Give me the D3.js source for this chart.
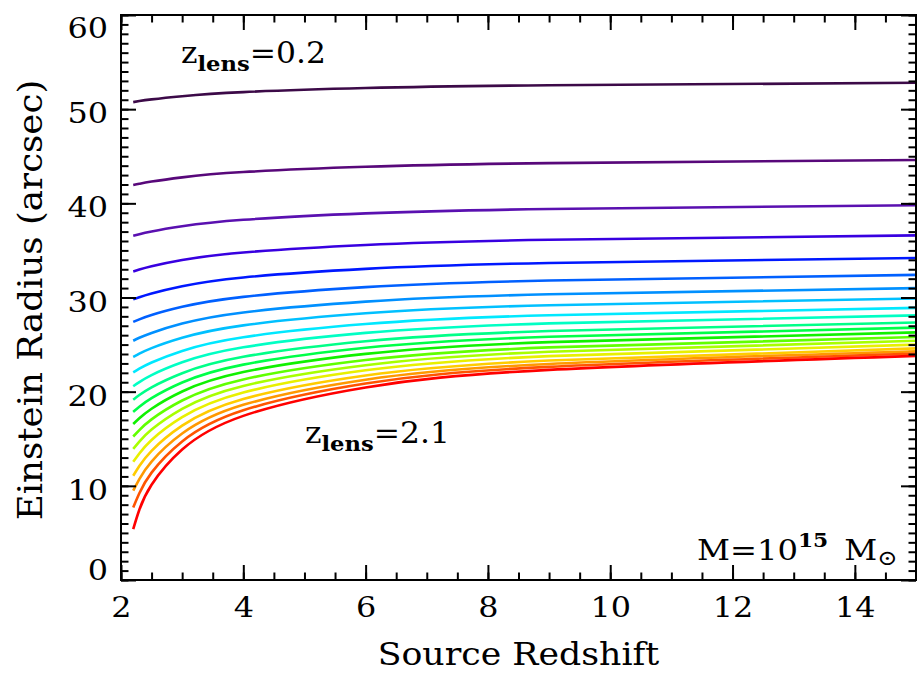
<!DOCTYPE html>
<html><head><meta charset="utf-8">
<script src="https://cdn.jsdelivr.net/npm/d3@7"></script>
<style>html,body{margin:0;padding:0;background:#fff;} svg{display:block;}</style>
</head>
<body>
<svg id="chart" width="917" height="674"></svg>
<script>
// ---- data ----
const sourceZ = [2.2, 2.3, 2.5, 3, 4, 6, 9, 15];
const lensZ = ["0.2","0.3","0.4","0.5","0.6","0.7","0.8","0.9","1.0","1.1","1.2","1.3","1.4","1.5","1.6","1.7","1.8","1.9","2.0","2.1"];
const theta02 = [50.75, 50.86, 51.04, 51.38, 51.81, 52.24, 52.54, 52.8];
const theta03 = [41.94, 42.07, 42.31, 42.76, 43.32, 43.88, 44.27, 44.6];
const theta04 = [36.55, 36.72, 37.01, 37.56, 38.25, 38.93, 39.40, 39.8];
const theta05 = [32.77, 32.97, 33.32, 33.98, 34.78, 35.58, 36.13, 36.6];
const theta06 = [29.80, 30.03, 30.43, 31.20, 32.13, 33.04, 33.67, 34.2];
const theta07 = [27.41, 27.68, 28.14, 29.01, 30.07, 31.10, 31.80, 32.4];
const theta08 = [25.41, 25.72, 26.24, 27.23, 28.41, 29.56, 30.34, 31.0];
const theta09 = [23.68, 24.03, 24.62, 25.72, 27.04, 28.32, 29.18, 29.9];
const theta10 = [22.05, 22.44, 23.10, 24.33, 25.78, 27.18, 28.12, 28.9];
const theta11 = [20.58, 21.02, 21.76, 23.12, 24.71, 26.24, 27.25, 28.1];
const theta12 = [19.15, 19.64, 20.46, 21.96, 23.70, 25.35, 26.44, 27.35];
const theta13 = [17.85, 18.40, 19.31, 20.97, 22.87, 24.66, 25.83, 26.8];
const theta14 = [16.56, 17.17, 18.19, 20.02, 22.08, 24.01, 25.26, 26.3];
const theta15 = [15.24, 15.92, 17.06, 19.06, 21.30, 23.36, 24.70, 25.8];
const theta16 = [13.93, 14.70, 15.98, 18.18, 20.61, 22.81, 24.24, 25.4];
const theta17 = [12.55, 13.43, 14.87, 17.29, 19.91, 22.27, 23.77, 25.0];
const theta18 = [11.07, 12.10, 13.72, 16.39, 19.22, 21.72, 23.31, 24.6];
const theta19 = [9.50, 10.72, 12.58, 15.55, 18.60, 21.27, 22.94, 24.3];
const theta20 = [7.70, 9.21, 11.40, 14.71, 18.02, 20.86, 22.63, 24.05];
const theta21 = [5.40, 7.46, 10.11, 13.85, 17.43, 20.45, 22.31, 23.8];
const lensColors = ["#3c0a48","#58087a","#5a10b0","#3800e0","#0018ff","#0060ff","#0090ff","#00c0ff",
  "#00e8ff","#00ffc4","#00ff88","#00ff48","#10f000","#60ff00","#a8ff00","#e8f000","#ffcc00","#ff9800","#ff5400","#ff0000"];
const xMajorTicks = [2, 4, 6, 8, 10, 12, 14];
const yMajorTicks = [0, 10, 20, 30, 40, 50, 60];

const seriesValues = [theta02,theta03,theta04,theta05,theta06,theta07,theta08,theta09,theta10,theta11,
  theta12,theta13,theta14,theta15,theta16,theta17,theta18,theta19,theta20,theta21];

// ---- layout ----
const L = 121, R = 916, T = 15, B = 580;
const FONT = "'DejaVu Serif', serif";
const SX = 1.18; // horizontal stretch to mimic the wide vector font
const svg = d3.select("#chart");
const x = d3.scaleLinear().domain([2, 15]).range([L, R]);
const y = d3.scaleLinear().domain([0, 60]).range([B, T]);

svg.append("rect").attr("width", 917).attr("height", 674).attr("fill", "#fff");

svg.append("clipPath").attr("id", "clip").append("rect")
  .attr("x", L).attr("y", T).attr("width", R - L).attr("height", B - T);

const line = d3.line().x(d => x(d[0])).y(d => y(d[1])).curve(d3.curveNatural);
const gLines = svg.append("g").attr("clip-path", "url(#clip)");
seriesValues.forEach((vals, i) => {
  gLines.append("path")
    .datum(sourceZ.map((z, j) => [z, vals[j]]))
    .attr("d", line)
    .attr("fill", "none")
    .attr("stroke", lensColors[i])
    .attr("stroke-width", 2.6)
    .attr("data-lens", lensZ[i]);
});

// ---- axes with inward ticks on all four sides ----
const xMinor = d3.range(2, 15.01, 0.5);
const yMinor = d3.range(0, 60.01, 1);
function styleAxis(g) {
  g.select(".domain").remove();
  g.selectAll("line").attr("stroke", "#000").attr("stroke-width", 2);
}
svg.append("g").attr("transform", `translate(0,${B})`)
  .call(d3.axisBottom(x).tickValues(xMinor).tickSize(-7.5).tickFormat("")).call(styleAxis);
svg.append("g").attr("transform", `translate(0,${T})`)
  .call(d3.axisTop(x).tickValues(xMinor).tickSize(-7.5).tickFormat("")).call(styleAxis);
svg.append("g").attr("transform", `translate(${L},0)`)
  .call(d3.axisLeft(y).tickValues(yMinor).tickSize(-7.5).tickFormat("")).call(styleAxis);
svg.append("g").attr("transform", `translate(${R},0)`)
  .call(d3.axisRight(y).tickValues(yMinor).tickSize(-7.5).tickFormat("")).call(styleAxis);

const xAx = svg.append("g").attr("transform", `translate(0,${B})`)
  .call(d3.axisBottom(x).tickValues(xMajorTicks).tickSize(-15).tickPadding(18).tickFormat(d3.format("d")))
  .call(styleAxis);
svg.append("g").attr("transform", `translate(0,${T})`)
  .call(d3.axisTop(x).tickValues(xMajorTicks).tickSize(-15).tickFormat("")).call(styleAxis);
const yAx = svg.append("g").attr("transform", `translate(${L},0)`)
  .call(d3.axisLeft(y).tickValues(yMajorTicks).tickSize(-15).tickPadding(13).tickFormat(d3.format("d")))
  .call(styleAxis);
svg.append("g").attr("transform", `translate(${R},0)`)
  .call(d3.axisRight(y).tickValues(yMajorTicks).tickSize(-15).tickFormat("")).call(styleAxis);

xAx.selectAll("text").attr("font-family", FONT).attr("font-size", 27).attr("fill", "#000")
  .attr("transform", `scale(${SX},1)`);
yAx.selectAll("text").attr("font-family", FONT).attr("font-size", 27).attr("fill", "#000")
  .attr("x", -13 / SX).attr("transform", `scale(${SX},1)`)
  .attr("dy", d => d === 60 ? "0.85em" : d === 0 ? "-0.02em" : "0.5em");

// frame
svg.append("rect").attr("x", L).attr("y", T).attr("width", R - L).attr("height", B - T)
  .attr("fill", "none").attr("stroke", "#000").attr("stroke-width", 2);

// axis titles
svg.append("text").attr("transform", `translate(${(L + R) / 2},665) scale(1.12,1)`).attr("text-anchor", "middle")
  .attr("font-family", FONT).attr("font-size", 31).text("Source Redshift");
svg.append("text").attr("transform", "translate(42,300) rotate(-90) scale(1.08,1)").attr("text-anchor", "middle")
  .attr("font-family", FONT).attr("font-size", 33).text("Einstein Radius (arcsec)");

// annotations
function lensLabel(px, py, val) {
  const t = svg.append("text").attr("transform", `translate(${px},${py}) scale(1.08,1)`)
    .attr("font-family", FONT).attr("font-size", 29);
  t.append("tspan").text("z");
  t.append("tspan").attr("dy", 8).attr("font-size", 21).attr("font-weight", "bold").text("lens");
  t.append("tspan").attr("dy", -8).text("=" + val);
}
lensLabel(181, 63, lensZ[0]);
lensLabel(305, 443, lensZ[lensZ.length - 1]);

const mt = svg.append("text").attr("transform", "translate(697,560) scale(1.15,1)")
  .attr("font-family", FONT).attr("font-size", 28);
mt.append("tspan").text("M=10");
mt.append("tspan").attr("dy", -13).attr("font-size", 19).attr("font-weight", "bold").text("15");
mt.append("tspan").attr("dy", 13).text("\u2002M");
mt.append("tspan").attr("dy", 5).attr("font-size", 21).text("\u2299");
</script>
</body></html>
